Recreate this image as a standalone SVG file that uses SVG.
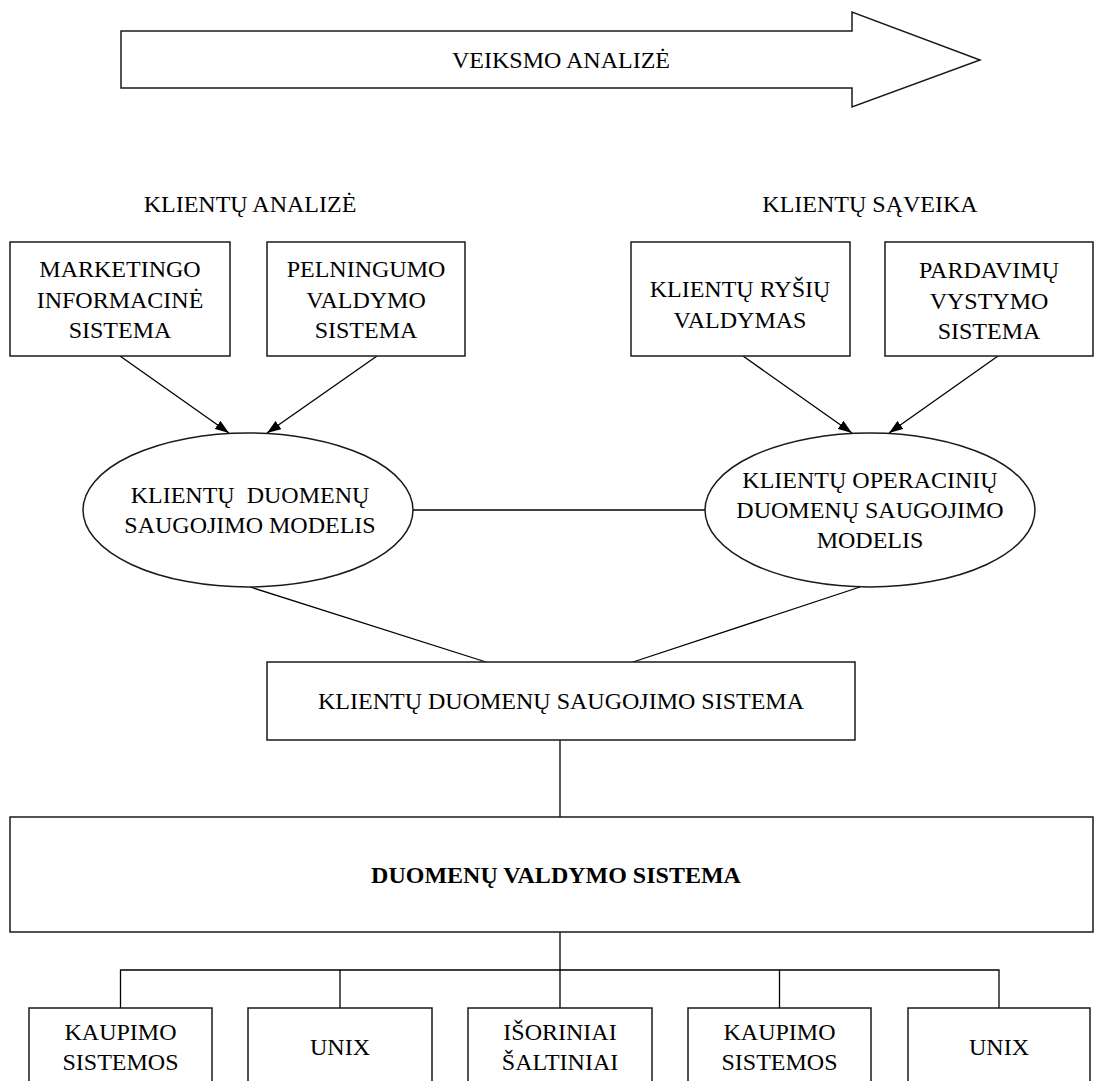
<svg xmlns="http://www.w3.org/2000/svg" width="1096" height="1081" viewBox="0 0 1096 1081">
  <style>
    .box { fill: #fff; stroke: #1a1a1a; stroke-width: 1.5; }
    .line { fill: none; stroke: #000; stroke-width: 1.3; }
    text { font-family: "Liberation Serif", "Times New Roman", serif; font-size: 24px; fill: #000; text-anchor: middle; }
    .bold { font-weight: bold; }
  </style>
  <defs>
    <marker id="arrowhead" markerWidth="14" markerHeight="10" refX="14" refY="5" orient="auto" markerUnits="userSpaceOnUse">
      <path d="M0,0 L14,5 L0,10 Z" fill="#000"/>
    </marker>
  </defs>
  <rect width="1096" height="1081" fill="#fff"/>

  <!-- process direction arrow -->
  <g id="action-arrow">
    <polygon class="box" points="121,31 852,31 852,12 980,60 852,107 852,88 121,88"/>
    <text x="561" y="68">VEIKSMO ANALIZĖ</text>
  </g>

  <!-- group headings -->
  <g id="heading-analysis"><text x="250" y="212">KLIENTŲ ANALIZĖ</text></g>
  <g id="heading-interaction"><text x="870" y="212">KLIENTŲ SĄVEIKA</text></g>

  <!-- connectors -->
  <g id="connectors">
    <line class="line" x1="120" y1="356" x2="229" y2="433" marker-end="url(#arrowhead)"/>
    <line class="line" x1="377" y1="356" x2="267" y2="433" marker-end="url(#arrowhead)"/>
    <line class="line" x1="743" y1="356" x2="852" y2="433" marker-end="url(#arrowhead)"/>
    <line class="line" x1="998" y1="356" x2="889" y2="433" marker-end="url(#arrowhead)"/>
    <line class="line" x1="413" y1="510" x2="705" y2="510"/>
    <line class="line" x1="250" y1="587" x2="486" y2="662"/>
    <line class="line" x1="860" y1="587" x2="633" y2="662"/>
    <line class="line" x1="560" y1="740" x2="560" y2="817"/>
    <line class="line" x1="560" y1="932" x2="560" y2="970"/>
    <polyline class="line" points="120.5,1008 120.5,970 999,970 999,1008"/>
    <line class="line" x1="340" y1="970" x2="340" y2="1008"/>
    <line class="line" x1="560" y1="970" x2="560" y2="1008"/>
    <line class="line" x1="779.5" y1="970" x2="779.5" y2="1008"/>
  </g>

  <!-- analysis systems -->
  <g id="marketing-is">
    <rect class="box" x="10" y="242" width="220" height="114"/>
    <text x="120" y="277">MARKETINGO</text>
    <text x="120" y="308">INFORMACINĖ</text>
    <text x="120" y="338">SISTEMA</text>
  </g>
  <g id="profitability">
    <rect class="box" x="267" y="242" width="198" height="114"/>
    <text x="366" y="277">PELNINGUMO</text>
    <text x="366" y="308">VALDYMO</text>
    <text x="366" y="338">SISTEMA</text>
  </g>

  <!-- interaction systems -->
  <g id="crm">
    <rect class="box" x="631" y="242" width="219" height="114"/>
    <text x="740" y="297">KLIENTŲ RYŠIŲ</text>
    <text x="740" y="328">VALDYMAS</text>
  </g>
  <g id="sales-dev">
    <rect class="box" x="885" y="242" width="208" height="114"/>
    <text x="989" y="278">PARDAVIMŲ</text>
    <text x="989" y="309">VYSTYMO</text>
    <text x="989" y="339">SISTEMA</text>
  </g>

  <!-- data models -->
  <g id="warehouse-model">
    <ellipse class="box" cx="248" cy="510" rx="165" ry="77"/>
    <text x="250" y="503" xml:space="preserve">KLIENTŲ  DUOMENŲ</text>
    <text x="250" y="533">SAUGOJIMO MODELIS</text>
  </g>
  <g id="operational-model">
    <ellipse class="box" cx="870" cy="510" rx="165" ry="77"/>
    <text x="870" y="488">KLIENTŲ OPERACINIŲ</text>
    <text x="870" y="518">DUOMENŲ SAUGOJIMO</text>
    <text x="870" y="548">MODELIS</text>
  </g>

  <!-- warehouse -->
  <g id="warehouse">
    <rect class="box" x="267" y="662" width="588" height="78"/>
    <text x="561" y="709">KLIENTŲ DUOMENŲ SAUGOJIMO SISTEMA</text>
  </g>

  <!-- data management -->
  <g id="dbms">
    <rect class="box" x="10" y="817" width="1083" height="115"/>
    <text class="bold" x="556" y="883">DUOMENŲ VALDYMO SISTEMA</text>
  </g>

  <!-- sources -->
  <g id="src-storage-1">
    <rect class="box" x="29" y="1008" width="183" height="90"/>
    <text x="120.5" y="1040">KAUPIMO</text>
    <text x="120.5" y="1070">SISTEMOS</text>
  </g>
  <g id="src-unix-1">
    <rect class="box" x="248" y="1008" width="184" height="90"/>
    <text x="340" y="1055">UNIX</text>
  </g>
  <g id="src-external">
    <rect class="box" x="468" y="1008" width="184" height="90"/>
    <text x="560" y="1040">IŠORINIAI</text>
    <text x="560" y="1070">ŠALTINIAI</text>
  </g>
  <g id="src-storage-2">
    <rect class="box" x="688" y="1008" width="183" height="90"/>
    <text x="779.5" y="1040">KAUPIMO</text>
    <text x="779.5" y="1070">SISTEMOS</text>
  </g>
  <g id="src-unix-2">
    <rect class="box" x="908" y="1008" width="182" height="90"/>
    <text x="999" y="1055">UNIX</text>
  </g>
</svg>
